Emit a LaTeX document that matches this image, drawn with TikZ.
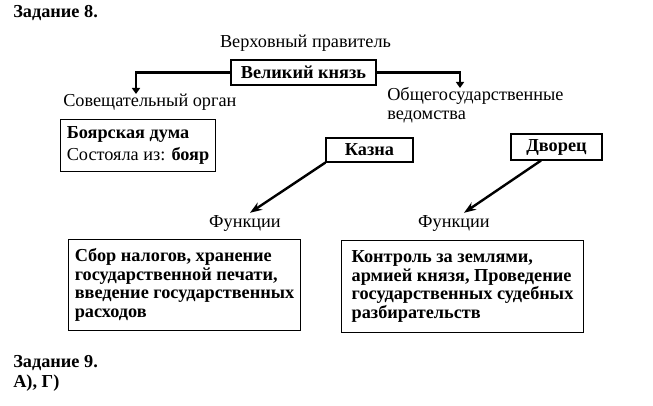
\documentclass[tikz,border=0pt]{standalone}
\usepackage{fontspec}
\setmainfont{Liberation Serif}
\usetikzlibrary{arrows.meta}

\begin{document}
\begin{tikzpicture}[x=0.75pt, y=-0.75pt,
        plain/.style={font=\fontsize{13.7pt}{14pt}\selectfont, inner sep=0pt},
        bold/.style={font=\fontsize{13.7pt}{14pt}\selectfont\bfseries, inner sep=0pt},
        box/.style={draw, line width=0.8pt},
        link/.style={line width=1.8pt}]
            \useasboundingbox (0,0) rectangle (653,406);

            \node[bold, anchor=base west] (task8) at (13,18) {Задание 8.};
            \node[plain, anchor=base] (ruler) at (305.5,48) {Верховный правитель};
            \node[box, bold, minimum width=108.75pt, minimum height=18.75pt] (prince) at (303.5,72.5) {Великий князь};

            \node[plain, anchor=base west] (council) at (63,107) {Совещательный орган};
            \node[plain, anchor=north west, align=left] (depts) at (387,87) {Общегосударственные\\ведомства};
            \coordinate (councilTip) at (136,94);
            \coordinate (deptsTip) at (460,88);
            \draw[link, -{Triangle[length=4.5pt,width=6pt]}] (prince.west) -| (councilTip);
            \draw[link, -{Triangle[length=4.5pt,width=6pt]}] (prince.east) -| (deptsTip);

            \node[box, plain, anchor=north west, minimum width=116.25pt, minimum height=39pt,
                  align=left] (duma) at (60,119)
                  {\textbf{Боярская дума}\\[2.5pt]Состояла из: \textbf{бояр}};

            \node[box, bold, minimum width=65.25pt, minimum height=18pt] (kazna) at (369.5,150) {Казна};
            \node[box, bold, minimum width=68.25pt, minimum height=19.5pt] (dvorets) at (556.5,147) {Дворец};

            \foreach \n/\x in {funcA/245, funcB/454}
                \node[plain, inner sep=1.5pt] (\n) at (\x,223) {Функции};

            \draw[link, -{Stealth[length=9pt,width=6.5pt]}] (kazna.south west) -- ([xshift=3.75pt]funcA.north);
            \draw[link, -{Stealth[length=9pt,width=6.5pt]}] ([xshift=-11.6pt]dvorets.south) -- ([xshift=7.5pt]funcB.north);

            \node[box, bold, anchor=north west, minimum width=174pt, minimum height=68.25pt,
                  align=left] (taxes) at (68,239)
                  {Сбор налогов, хранение\\государственной печати,\\введение государственных\\расходов};
            \node[box, bold, anchor=north west, minimum width=181.5pt, minimum height=69pt,
                  align=left] (lands) at (341,240)
                  {Контроль за землями,\\армией князя, Проведение\\государственных судебных\\разбирательств};

            \node[bold, anchor=base west] (task9) at (13,367) {Задание 9.};
            \node[bold, anchor=base west] (answer) at (13,387) {А), Г)};
        \end{tikzpicture}
\end{document}
